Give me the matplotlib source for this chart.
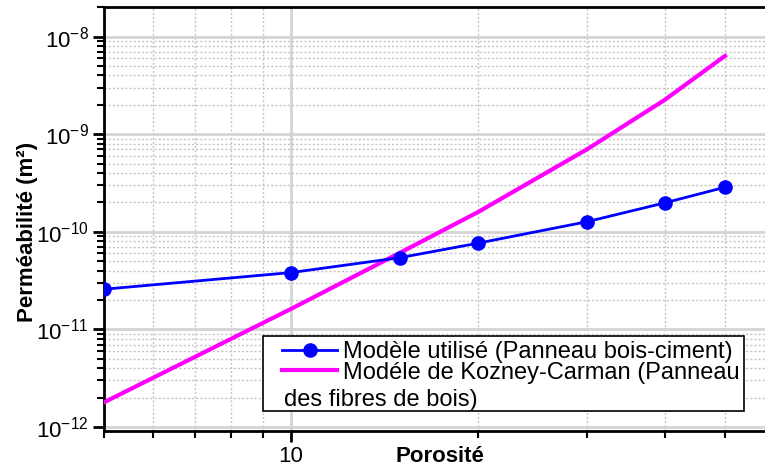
import numpy as np
import matplotlib
matplotlib.use('Agg')
from matplotlib import pyplot as plt
from matplotlib.ticker import FixedLocator, NullFormatter
from matplotlib.patches import Rectangle

plt.rcParams['font.family'] = ['Liberation Sans', 'DejaVu Sans']
plt.rcParams['mathtext.default'] = 'regular'

# porosite (%)
porosite = [5, 10, 15, 20, 30, 40, 50]
# permeabilite (m2)
k_modele = [2.58e-11, 3.82e-11, 5.44e-11, 7.64e-11, 1.27e-10, 1.98e-10, 2.86e-10]
k_kozeny = [1.79e-12, 1.62e-11, 6.12e-11, 1.59e-10, 7.02e-10, 2.25e-09, 6.34e-09]

x_ticks = [10]
x_ticklabels = ['10']
y_ticks = [1e-12, 1e-11, 1e-10, 1e-9, 1e-8]

label_1 = "Modèle utilisé (Panneau bois-ciment)"
label_2 = "Modéle de Kozney-Carman (Panneau"
label_2b = "des fibres de bois)"

W, H = 765, 466
fig = plt.figure(figsize=(W / 100, H / 100), dpi=100)
ax = fig.add_axes([104 / W, 1 - 431 / H, 1 - 104 / W, (431 - 7) / H])

ax.set_xscale('log')
ax.set_yscale('log')

l1, = ax.plot(porosite, k_modele, color='#0000ff', lw=2, marker='o', ms=9.5,
              label=label_1, zorder=4)
l2, = ax.plot(porosite, k_kozeny, color='#ff00ff', lw=3, label=label_2, zorder=3)

ax.set_xlim(5, 58)
ax.set_ylim(9.1e-13, 2.01e-8)

ax.xaxis.set_major_locator(FixedLocator(x_ticks))
ax.set_xticklabels(x_ticklabels)
ax.xaxis.set_minor_locator(FixedLocator([5, 6, 7, 8, 9, 20, 30, 40, 50]))
ax.xaxis.set_minor_formatter(NullFormatter())
ax.yaxis.set_major_locator(FixedLocator(y_ticks))
ax.yaxis.set_minor_locator(FixedLocator([m * t for t in y_ticks[:-1] for m in range(2, 10)]
                                        + [m * 1e-8 for m in (2,)]))
ax.yaxis.set_minor_formatter(NullFormatter())

ax.tick_params(which='major', direction='out', length=8, width=2, labelsize=16,
               colors='black', pad=3)
ax.tick_params(which='minor', direction='out', length=5, width=1.5)

ax.grid(True, which='major', color='#d4d4d4', lw=2, ls='-', zorder=0)
ax.grid(True, which='minor', color='#c4c4c4', lw=1, ls=(0, (1.5, 1.5)), zorder=0)
ax.set_axisbelow(True)

for s in ['left', 'bottom', 'top']:
    ax.spines[s].set_linewidth(2)
ax.spines['right'].set_visible(False)

ax.set_xlabel('Porosité', fontsize=16, fontweight='bold')
ax.xaxis.set_label_coords((440 - 104) / 661, (431 - 446) / 424)
ax.set_ylabel('Perméabilité (m²)', fontsize=16, fontweight='bold')
ax.yaxis.set_label_coords((38 - 104) / 661, (431 - 232) / 424)

# legend: frame drawn as its own box so the 3rd line can sit under the handles
frame = Rectangle((263 / W, 1 - 411 / H), (744 - 263) / W, (411 - 336) / H,
                  transform=fig.transFigure, facecolor='white', edgecolor='black',
                  lw=1.2, zorder=4.5, clip_on=False)
ax.add_patch(frame)
leg = ax.legend([l1, l2], [label_1, label_2], loc='upper left',
                bbox_to_anchor=(282 / W, 1 - 341 / H), bbox_transform=fig.transFigure,
                fontsize=17, frameon=False, handlelength=2.35, handletextpad=0.22,
                labelspacing=-0.06, borderpad=0, borderaxespad=0)
leg.set_zorder(6)
fig.text(284 / W, 1 - 400 / H, label_2b, fontsize=17, va='center', ha='left', zorder=10)

fig.savefig('out.png', dpi=100)
